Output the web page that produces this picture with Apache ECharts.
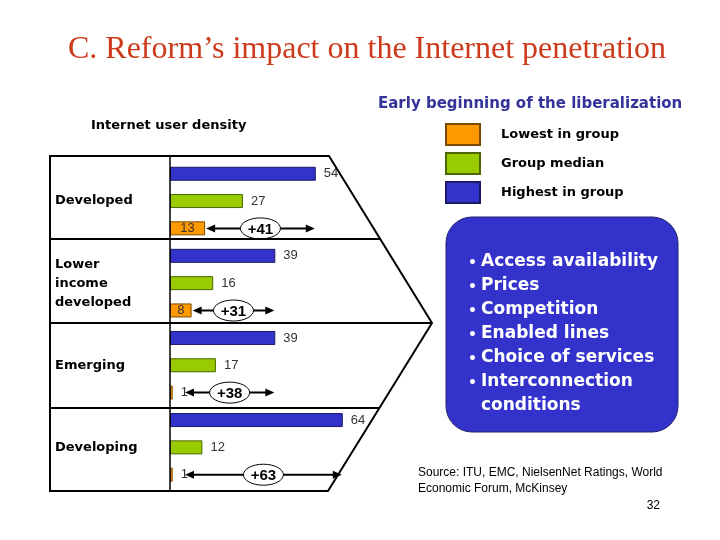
<!DOCTYPE html>
<html>
<head>
<meta charset="utf-8">
<script src="https://cdn.jsdelivr.net/npm/echarts@6/dist/echarts.min.js"></script>
<style>
  html, body { margin: 0; padding: 0; background: #fff; }
  #main { width: 720px; height: 540px; }
</style>
</head>
<body>
<div id="main"></div>
<script>
// internet user density per group (users per 100 inhabitants)
var groups = ['Developed', 'Lower\nincome\ndeveloped', 'Emerging', 'Developing'];
var lowest = [13, 8, 1, 1];
var median = [27, 16, 17, 12];
var highest = [54, 39, 39, 64];
var seriesNames = ['Lowest in group', 'Group median', 'Highest in group'];
var bullets = ['Access availability', 'Prices', 'Competition', 'Enabled lines',
  'Choice of services', 'Interconnection', 'conditions'];

var sans = '"DejaVu Sans", Verdana, sans-serif';
var arial = '"Liberation Sans", Arial, sans-serif';

var chart = echarts.init(document.getElementById('main'));

// arrow with the gap between highest and lowest, drawn on the lowest bar row
function renderGap(params, api) {
  var i = api.value(2);
  var lo = api.coord([api.value(0), i]);
  var hi = api.coord([api.value(1), i]);
  var zero = api.coord([0, i]);
  var band = api.size([0, 1])[1];
  var y = lo[1] + band / 3;
  var x0 = Math.max(lo[0] + 1, zero[0] + 15);
  var x1 = hi[0] - 1;
  var cx = (x0 + x1) / 2;
  var gap = api.value(1) - api.value(0);
  return {
    type: 'group',
    children: [
      { type: 'line', shape: { x1: x0 + 6, y1: y, x2: x1 - 6, y2: y }, style: { stroke: '#000', lineWidth: 2 } },
      { type: 'polygon', shape: { points: [[x0, y], [x0 + 9, y - 4], [x0 + 9, y + 4]] }, style: { fill: '#000' } },
      { type: 'polygon', shape: { points: [[x1, y], [x1 - 9, y - 4], [x1 - 9, y + 4]] }, style: { fill: '#000' } },
      { type: 'ellipse', shape: { cx: cx, cy: y, rx: 20, ry: 10.5 }, style: { fill: '#fff', stroke: '#000', lineWidth: 1 } },
      { type: 'text', style: { text: '+' + gap, x: cx, y: y + 1, textAlign: 'center', textVerticalAlign: 'middle',
        font: 'bold 15px ' + arial, fill: '#000' } }
    ]
  };
}

var barLabel = { show: true, position: 'right', distance: 8, color: '#333', fontSize: 13, fontFamily: arial };

var option = {
  animation: false,
  textStyle: { fontFamily: sans },
  grid: { left: 170, right: 280, top: 160, bottom: 51.6 },
  legend: {
    data: seriesNames,
    orient: 'vertical',
    left: 445,
    top: 123,
    padding: 0,
    itemWidth: 34,
    itemHeight: 21,
    itemGap: 6,
    icon: 'rect',
    selectedMode: false,
    textStyle: { fontFamily: sans, fontWeight: 'bold', fontSize: 13, color: '#000', padding: [0, 0, 0, 16] }
  },
  xAxis: { type: 'value', min: 0, max: 100, show: false },
  yAxis: {
    type: 'category',
    inverse: true,
    data: groups,
    axisLine: { show: false },
    axisTick: { show: false },
    splitLine: { show: false },
    axisLabel: {
      align: 'left', margin: 115, color: '#000', fontFamily: sans,
      fontWeight: 'bold', fontSize: 13, lineHeight: 19
    }
  },
  series: [
    {
      name: seriesNames[2], type: 'bar', data: highest, barWidth: 14, barGap: '95%',
      itemStyle: { color: '#3333cc', borderColor: '#1a1a66', borderWidth: 1 },
      label: barLabel
    },
    {
      name: seriesNames[1], type: 'bar', data: median, barWidth: 14, barGap: '95%',
      itemStyle: { color: '#99cc00', borderColor: '#4d6600', borderWidth: 1 },
      label: barLabel
    },
    {
      name: seriesNames[0], type: 'bar', barWidth: 14, barGap: '95%',
      data: lowest.map(function (v) {
        return v >= 5 ? { value: v, label: { position: 'inside' } } : v;
      }),
      itemStyle: { color: '#ff9900', borderColor: '#7a4a00', borderWidth: 1 },
      label: barLabel
    },
    {
      type: 'custom',
      silent: true,
      z: 5,
      renderItem: renderGap,
      encode: { x: [0, 1], y: 2 },
      data: groups.map(function (g, i) { return [lowest[i], highest[i], i]; })
    }
  ],
  graphic: [
    { type: 'text', style: { text: 'C. Reform\u2019s impact on the Internet penetration', x: 367, y: 50,
      textAlign: 'center', textVerticalAlign: 'middle', font: '32px "Liberation Serif", "Times New Roman", serif', fill: '#cc3a1a' } },
    { type: 'text', style: { text: 'Early beginning of the liberalization', x: 378, y: 104,
      textVerticalAlign: 'middle', font: 'bold 15px ' + sans, fill: '#333399' } },
    { type: 'text', style: { text: 'Internet user density', x: 91, y: 126,
      textVerticalAlign: 'middle', font: 'bold 13px ' + sans, fill: '#000' } },
    // frame around the bars, pointing at the box
    { type: 'polygon', z: 10, shape: { points: [[50, 156], [329, 156], [432, 323], [328, 491], [50, 491]] },
      style: { fill: null, stroke: '#000', lineWidth: 2 } },
    { type: 'line', z: 10, shape: { x1: 170, y1: 156, x2: 170, y2: 491 }, style: { stroke: '#000', lineWidth: 1.5 } },
    { type: 'line', z: 10, shape: { x1: 50, y1: 239, x2: 381, y2: 239 }, style: { stroke: '#000', lineWidth: 2 } },
    { type: 'line', z: 10, shape: { x1: 50, y1: 323, x2: 432, y2: 323 }, style: { stroke: '#000', lineWidth: 2 } },
    { type: 'line', z: 10, shape: { x1: 50, y1: 408, x2: 380, y2: 408 }, style: { stroke: '#000', lineWidth: 2 } },
    // drivers box
    { type: 'rect', shape: { x: 446, y: 217, width: 232, height: 215, r: 26 },
      style: { fill: '#3333cc', stroke: '#22226a', lineWidth: 1 } },
    { type: 'text', style: { text: ['\u2022', '\u2022', '\u2022', '\u2022', '\u2022', '\u2022'].join('\n'), x: 468, y: 251,
      lineHeight: 24, font: 'bold 14px ' + sans, fill: '#fff' } },
    { type: 'text', style: { text: bullets.join('\n'), x: 481, y: 250,
      lineHeight: 24, font: 'bold 17px ' + sans, fill: '#fff' } },
    { type: 'text', style: { text: 'Source: ITU, EMC, NielsenNet Ratings, World\nEconomic Forum, McKinsey', x: 418, y: 465,
      lineHeight: 16, font: '12px ' + arial, fill: '#000' } },
    { type: 'text', style: { text: '32', x: 660, y: 506, textAlign: 'right', textVerticalAlign: 'middle',
      font: '12px ' + arial, fill: '#000' } }
  ]
};

chart.setOption(option);
</script>
</body>
</html>
